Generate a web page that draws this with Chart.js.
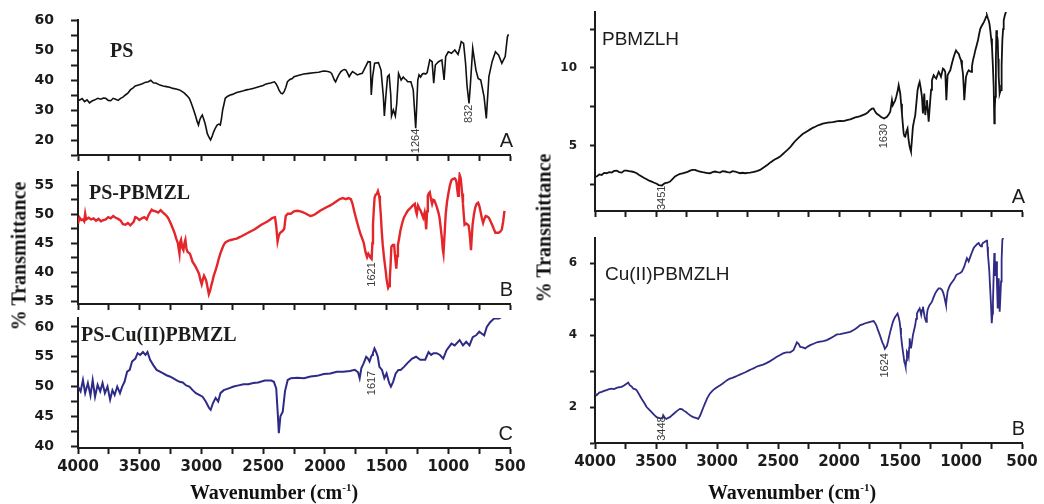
<!DOCTYPE html>
<html>
<head>
<meta charset="utf-8">
<script src="https://cdn.jsdelivr.net/npm/chart.js@4.4.1/dist/chart.umd.min.js"></script>
<style>
  body { margin: 0; background: #fff; }
  #fig { position: relative; width: 1044px; height: 504px; overflow: hidden; background: #fff; }
  #fig canvas { position: absolute; }
  .ytitle {
    position: absolute; white-space: nowrap; color: #111;
    font: bold 20px "Liberation Serif", serif;
    transform: translate(-50%, -50%) rotate(-90deg);
  }
  .xtitle {
    position: absolute; white-space: nowrap; color: #111;
    font: bold 20px "Liberation Serif", serif;
    transform: translate(-50%, -50%);
  }
  .xtitle sup { font-size: 11px; }
</style>
</head>
<body>
<div id="fig">
  <canvas id="psChart" width="530" height="163" style="left:0;top:0"></canvas>
  <canvas id="psLigandChart" width="530" height="146" style="left:0;top:164px"></canvas>
  <canvas id="psCopperChart" width="530" height="194" style="left:0;top:310px"></canvas>
  <canvas id="ligandChart" width="514" height="217" style="left:530px;top:0"></canvas>
  <canvas id="copperChart" width="514" height="279" style="left:530px;top:225px"></canvas>

  <div class="ytitle" style="left:19px;top:256px">% Transmittance</div>
  <div class="ytitle" style="left:544px;top:228px">% Transmittance</div>
  <div class="xtitle" style="left:274px;top:492px">Wavenumber (cm<sup>-1</sup>)</div>
  <div class="xtitle" style="left:792px;top:492px">Wavenumber (cm<sup>-1</sup>)</div>
</div>

<script>
// x tick labels shared by every panel (wavenumber, cm-1)
const waveLabels = [4000, 3500, 3000, 2500, 2000, 1500, 1000, 500];

// y tick labels per panel
const psTicks = [20, 30, 40, 50, 60];
const psLigandTicks = [35, 40, 45, 50, 55];
const psCopperTicks = [40, 45, 50, 55, 60];
const ligandTicks = [5, 10];
const copperTicks = [2, 4, 6];

// spectra as [wavenumber, %T]
const psSpectrum = [
  [4000, 33.6], [3987, 33.3], [3967, 33.8], [3947, 32.8], [3927, 33.4], [3907, 32.4],
  [3887, 33.0], [3867, 33.3], [3840, 33.9], [3814, 33.6], [3795, 34.0], [3775, 33.9],
  [3755, 33.2], [3735, 33.1], [3715, 33.9], [3695, 33.6], [3675, 33.2], [3655, 33.9],
  [3636, 34.3], [3616, 35.0], [3596, 35.6], [3576, 36.7], [3556, 37.3], [3536, 38.0],
  [3510, 38.3], [3483, 38.7], [3457, 39.2], [3430, 39.4], [3410, 39.9], [3390, 39.1],
  [3365, 38.9], [3337, 38.3], [3310, 38.0], [3284, 37.8], [3257, 37.6], [3231, 37.2],
  [3205, 37.0], [3178, 36.7], [3158, 36.2], [3138, 35.6], [3118, 34.8], [3099, 33.9],
  [3085, 32.6], [3072, 31.1], [3059, 29.5], [3046, 27.8], [3035, 26.2], [3024, 25.0],
  [3015, 26.5], [3006, 27.5], [2993, 28.3], [2982, 27.0], [2971, 25.6], [2962, 24.0],
  [2953, 22.2], [2940, 21.0], [2926, 20.0], [2913, 21.3], [2900, 22.8], [2887, 24.0],
  [2873, 25.0], [2860, 25.3], [2847, 25.0], [2838, 27.0], [2828, 30.0], [2817, 32.0],
  [2807, 33.9], [2790, 34.5], [2767, 35.0], [2748, 35.2], [2728, 35.6], [2708, 35.9],
  [2688, 36.1], [2660, 36.4], [2635, 36.7], [2610, 36.9], [2582, 37.2], [2555, 37.5],
  [2529, 37.8], [2500, 38.2], [2476, 38.7], [2440, 39.0], [2409, 39.4], [2396, 38.8],
  [2383, 37.8], [2370, 36.5], [2356, 35.6], [2343, 35.4], [2330, 36.1], [2316, 37.6],
  [2303, 39.4], [2283, 40.2], [2264, 40.5], [2250, 41.1], [2210, 41.6], [2171, 42.0],
  [2130, 42.2], [2092, 42.4], [2050, 42.6], [2013, 43.0], [1985, 42.9], [1961, 42.7],
  [1945, 42.2], [1934, 41.1], [1923, 40.0], [1913, 39.4], [1900, 40.6], [1887, 41.7],
  [1870, 42.8], [1855, 43.3], [1840, 43.5], [1829, 43.3], [1815, 42.2], [1803, 41.1],
  [1790, 42.0], [1776, 42.8], [1757, 42.3], [1737, 41.7], [1717, 42.0], [1697, 42.2],
  [1671, 44.4], [1650, 46.1], [1632, 46.0], [1624, 35.0], [1613, 41.1], [1597, 45.6],
  [1566, 45.8], [1545, 43.3], [1526, 34.4], [1518, 28.0], [1505, 35.0], [1492, 41.1],
  [1479, 41.7], [1466, 35.0], [1460, 28.0], [1445, 30.0], [1429, 28.0], [1418, 32.0],
  [1403, 42.2], [1382, 40.0], [1365, 41.0], [1355, 40.5], [1340, 40.0], [1329, 39.4],
  [1303, 39.4], [1284, 36.7], [1264, 23.9], [1256, 31.0], [1247, 40.0], [1237, 41.7],
  [1224, 41.0], [1210, 42.0], [1197, 42.2], [1184, 42.0], [1171, 42.5], [1150, 46.7],
  [1131, 46.1], [1118, 38.9], [1105, 45.0], [1079, 46.1], [1052, 46.7], [1034, 40.0],
  [1021, 47.8], [1000, 49.4], [974, 48.9], [947, 50.0], [921, 48.5], [908, 50.5],
  [895, 52.8], [876, 52.2], [860, 45.6], [848, 38.0], [832, 32.2], [822, 37.8],
  [802, 50.6], [776, 43.3], [758, 40.5], [737, 40.0], [710, 34.4], [692, 27.2],
  [671, 41.1], [645, 46.1], [618, 49.4], [592, 48.3], [566, 45.6], [539, 47.8],
  [521, 54.4], [512, 55.2],
];

const psLigandSpectrum = [
  [4000, 48.4], [3987, 49.4], [3973, 49.0], [3960, 49.1], [3950, 48.8], [3942, 50.1],
  [3934, 49.1], [3914, 49.4], [3894, 49.1], [3874, 49.3], [3854, 48.9], [3834, 49.2],
  [3814, 48.8], [3795, 49.0], [3775, 49.1], [3755, 49.5], [3735, 49.3], [3715, 49.7],
  [3695, 49.4], [3675, 49.2], [3655, 48.9], [3636, 48.3], [3616, 48.2], [3596, 48.5],
  [3576, 48.1], [3562, 48.4], [3549, 48.7], [3536, 49.5], [3523, 49.4], [3503, 49.0],
  [3483, 49.3], [3463, 49.5], [3443, 49.1], [3430, 49.8], [3417, 50.3], [3403, 50.8],
  [3390, 50.6], [3370, 50.5], [3350, 50.3], [3330, 50.7], [3311, 50.3], [3290, 49.9],
  [3271, 49.4], [3257, 48.8], [3244, 48.2], [3231, 47.5], [3218, 46.8], [3204, 45.8],
  [3191, 45.0], [3178, 43.2], [3172, 45.2], [3165, 45.6], [3155, 44.2], [3146, 43.8],
  [3138, 45.0], [3130, 45.6], [3121, 44.0], [3112, 43.5], [3093, 43.2], [3072, 41.8],
  [3046, 40.9], [3030, 40.2], [3019, 39.7], [3008, 38.6], [2998, 37.9], [2988, 38.8],
  [2979, 39.4], [2970, 39.0], [2961, 38.5], [2950, 37.3], [2940, 36.2], [2930, 36.8],
  [2921, 37.6], [2910, 38.5], [2900, 39.4], [2887, 40.2], [2873, 41.2], [2860, 42.3],
  [2847, 43.2], [2833, 44.0], [2820, 44.7], [2807, 45.1], [2794, 45.3], [2774, 45.5],
  [2754, 45.6], [2734, 45.7], [2714, 45.8], [2695, 46.0], [2675, 46.2], [2648, 46.5],
  [2622, 46.8], [2595, 47.1], [2568, 47.4], [2541, 47.8], [2515, 48.2], [2488, 48.5],
  [2462, 48.8], [2442, 49.1], [2423, 49.4], [2404, 49.5], [2394, 48.0], [2383, 45.3],
  [2372, 46.4], [2362, 46.8], [2343, 47.1], [2329, 47.5], [2317, 49.7], [2300, 50.1],
  [2276, 50.1], [2250, 50.5], [2224, 50.6], [2198, 50.5], [2171, 50.3], [2145, 50.0],
  [2118, 49.7], [2098, 49.8], [2079, 50.0], [2059, 50.3], [2039, 50.6], [2013, 50.9],
  [1987, 51.2], [1960, 51.5], [1934, 51.8], [1908, 52.2], [1882, 52.6], [1855, 52.8],
  [1829, 52.6], [1809, 52.8], [1789, 52.6], [1776, 51.8], [1763, 50.6], [1750, 49.5],
  [1737, 48.5], [1724, 47.5], [1710, 46.5], [1697, 45.8], [1684, 45.0], [1671, 43.5],
  [1658, 42.6], [1648, 43.2], [1639, 42.9], [1630, 42.5], [1621, 42.3], [1615, 45.0],
  [1610, 48.2], [1603, 51.0], [1597, 52.9], [1588, 53.4], [1579, 53.5], [1570, 54.0],
  [1560, 53.2], [1554, 52.0], [1547, 50.0], [1539, 47.0], [1531, 44.7], [1522, 42.8],
  [1513, 41.2], [1506, 40.0], [1500, 38.8], [1493, 37.9], [1487, 37.3], [1480, 37.6],
  [1474, 38.8], [1467, 41.5], [1461, 44.4], [1450, 44.7], [1439, 44.7], [1430, 42.5],
  [1421, 40.6], [1414, 42.8], [1408, 44.7], [1397, 46.0], [1387, 47.3], [1373, 48.5],
  [1360, 49.4], [1345, 50.0], [1329, 50.6], [1310, 51.0], [1289, 51.5], [1271, 51.8],
  [1263, 50.6], [1255, 50.0], [1245, 51.5], [1234, 51.0], [1224, 50.6], [1213, 50.0],
  [1203, 49.4], [1192, 50.3], [1185, 49.0], [1179, 47.4], [1172, 50.5], [1166, 53.2],
  [1158, 53.6], [1150, 53.8], [1140, 52.6], [1131, 51.8], [1122, 52.5], [1113, 52.4],
  [1102, 51.8], [1092, 51.2], [1080, 50.3], [1071, 49.4], [1062, 47.8], [1052, 45.9],
  [1045, 44.0], [1039, 43.2], [1030, 46.5], [1021, 50.0], [1010, 52.2], [1000, 53.5],
  [987, 55.0], [974, 55.9], [960, 56.1], [947, 56.2], [940, 56.0], [934, 55.6],
  [927, 54.2], [921, 53.2], [914, 55.0], [908, 56.8], [901, 56.4], [895, 55.3],
  [888, 53.6], [881, 51.8], [875, 50.0], [868, 48.2], [855, 48.4], [842, 48.2],
  [835, 48.0], [829, 47.1], [822, 45.5], [816, 43.8], [810, 46.0], [803, 48.2],
  [792, 50.0], [781, 51.2], [770, 51.8], [758, 52.0], [748, 51.4], [737, 50.3],
  [728, 49.3], [718, 48.5], [708, 49.2], [697, 49.7], [684, 49.6], [671, 49.4],
  [658, 48.8], [645, 48.2], [632, 47.5], [618, 46.8], [605, 46.8], [592, 46.8],
  [579, 47.0], [566, 47.4], [555, 48.8], [545, 50.6],
];

const psCopperSpectrum = [
  [4000, 50.0], [3979, 49.2], [3960, 51.1], [3942, 48.9], [3920, 50.6], [3899, 48.5],
  [3881, 51.1], [3862, 48.3], [3841, 50.3], [3820, 49.2], [3801, 50.6], [3782, 48.9],
  [3761, 50.0], [3740, 47.8], [3721, 49.4], [3703, 48.6], [3682, 50.0], [3660, 48.9],
  [3642, 50.0], [3623, 50.8], [3602, 52.5], [3581, 52.8], [3562, 54.2], [3535, 54.7],
  [3517, 55.6], [3496, 55.3], [3474, 55.8], [3453, 55.3], [3437, 55.8], [3416, 54.5],
  [3390, 53.6], [3363, 52.8], [3336, 52.5], [3310, 52.2], [3283, 51.9], [3257, 51.7],
  [3230, 51.4], [3204, 51.1], [3177, 50.8], [3151, 50.7], [3124, 50.2], [3098, 50.0],
  [3071, 49.4], [3045, 48.9], [3018, 48.6], [2991, 48.3], [2965, 47.5], [2938, 46.4],
  [2925, 46.1], [2907, 47.2], [2885, 48.1], [2864, 47.5], [2846, 48.9], [2819, 49.4],
  [2779, 49.7], [2739, 50.0], [2699, 50.2], [2660, 50.4], [2620, 50.4], [2580, 50.6],
  [2540, 50.7], [2487, 51.0], [2434, 51.0], [2413, 50.8], [2394, 49.7], [2381, 45.3],
  [2373, 42.2], [2360, 45.0], [2341, 45.8], [2323, 49.2], [2301, 51.1], [2275, 51.4],
  [2222, 51.5], [2169, 51.4], [2116, 51.7], [2063, 51.8], [2009, 52.1], [1956, 52.2],
  [1903, 52.5], [1850, 52.5], [1797, 52.6], [1757, 52.8], [1731, 52.4], [1718, 51.4],
  [1704, 53.1], [1686, 53.9], [1665, 55.0], [1651, 54.7], [1638, 54.2], [1625, 55.0],
  [1617, 55.3], [1611, 55.6], [1598, 56.4], [1585, 55.8], [1571, 55.0], [1558, 53.3],
  [1537, 52.8], [1518, 51.4], [1500, 52.2], [1479, 50.6], [1465, 50.0], [1447, 50.8],
  [1426, 52.2], [1404, 52.8], [1386, 52.8], [1359, 53.3], [1333, 53.9], [1293, 54.7],
  [1261, 55.0], [1227, 54.5], [1187, 54.5], [1160, 55.8], [1139, 55.3], [1120, 55.6],
  [1094, 55.6], [1067, 55.3], [1041, 54.7], [1014, 56.1], [974, 57.2], [948, 56.9],
  [908, 57.8], [881, 56.9], [855, 57.5], [828, 56.9], [802, 58.3], [775, 58.6],
  [749, 59.2], [730, 58.9], [709, 58.6], [688, 60.0], [661, 60.8], [629, 61.4],
  [589, 61.4], [575, 61.6],
];

const ligandSpectrum = [
  [4000, 3.0], [3986, 3.02], [3965, 3.15], [3945, 3.12], [3925, 3.25], [3904, 3.23],
  [3884, 3.3], [3863, 3.27], [3843, 3.38], [3822, 3.4], [3802, 3.3], [3781, 3.27],
  [3760, 3.4], [3740, 3.4], [3720, 3.36], [3699, 3.34], [3679, 3.3], [3658, 3.23],
  [3638, 3.12], [3617, 3.02], [3597, 2.92], [3576, 2.84], [3556, 2.75], [3535, 2.69],
  [3515, 2.62], [3494, 2.55], [3478, 2.47], [3451, 2.44], [3440, 2.52], [3426, 2.59],
  [3405, 2.62], [3385, 2.69], [3365, 2.85], [3344, 3.02], [3323, 3.12], [3303, 3.19],
  [3282, 3.22], [3262, 3.27], [3241, 3.32], [3221, 3.4], [3200, 3.45], [3180, 3.44],
  [3160, 3.38], [3139, 3.34], [3118, 3.3], [3098, 3.27], [3078, 3.24], [3057, 3.23],
  [3037, 3.3], [3016, 3.34], [2995, 3.3], [2975, 3.27], [2955, 3.36], [2934, 3.34],
  [2914, 3.3], [2893, 3.27], [2873, 3.36], [2852, 3.34], [2832, 3.28], [2811, 3.23],
  [2790, 3.26], [2770, 3.23], [2750, 3.25], [2729, 3.27], [2708, 3.3], [2688, 3.34],
  [2668, 3.38], [2647, 3.44], [2627, 3.55], [2606, 3.66], [2585, 3.78], [2565, 3.91],
  [2545, 4.02], [2524, 4.13], [2504, 4.2], [2483, 4.3], [2462, 4.45], [2441, 4.6],
  [2420, 4.75], [2400, 4.9], [2380, 5.1], [2359, 5.3], [2339, 5.45], [2319, 5.6],
  [2298, 5.75], [2277, 5.85], [2257, 5.95], [2236, 6.05], [2215, 6.15], [2195, 6.22],
  [2175, 6.3], [2154, 6.36], [2133, 6.42], [2113, 6.45], [2092, 6.48], [2072, 6.5],
  [2051, 6.52], [2031, 6.55], [2010, 6.58], [1990, 6.6], [1970, 6.58], [1949, 6.62],
  [1928, 6.66], [1908, 6.69], [1887, 6.76], [1867, 6.82], [1847, 6.86], [1826, 6.9],
  [1806, 6.97], [1785, 7.03], [1765, 7.14], [1744, 7.3], [1730, 7.38], [1717, 7.4],
  [1703, 7.18], [1690, 7.05], [1675, 6.97], [1655, 6.85], [1630, 6.75], [1620, 6.8],
  [1607, 6.86], [1593, 7.0], [1580, 7.18], [1566, 7.93], [1559, 7.6], [1552, 7.72],
  [1540, 7.9], [1531, 8.14], [1520, 8.5], [1511, 8.89], [1504, 8.6], [1498, 8.36],
  [1491, 7.7], [1484, 7.07], [1477, 6.4], [1470, 5.79], [1463, 5.6], [1457, 5.58],
  [1448, 5.9], [1438, 6.11], [1430, 5.4], [1421, 4.94], [1415, 4.75], [1410, 4.62],
  [1402, 5.4], [1394, 6.22], [1385, 6.6], [1375, 6.97], [1365, 7.8], [1356, 8.57],
  [1347, 8.9], [1339, 9.1], [1330, 8.7], [1320, 8.14], [1312, 7.07], [1306, 7.8],
  [1301, 8.36], [1293, 6.97], [1286, 7.5], [1279, 7.93], [1265, 6.54], [1258, 7.3],
  [1252, 7.93], [1245, 8.6], [1238, 9.21], [1224, 9.53], [1213, 9.4], [1203, 9.32],
  [1193, 9.55], [1183, 9.75], [1173, 9.6], [1164, 9.43], [1156, 9.7], [1148, 9.96],
  [1138, 9.9], [1129, 9.75], [1120, 7.93], [1110, 9.53], [1099, 9.7], [1088, 9.85],
  [1074, 10.3], [1060, 10.71], [1050, 10.95], [1041, 11.13], [1030, 11.0], [1019, 10.92],
  [1010, 10.7], [1000, 10.49], [992, 10.1], [984, 9.64], [978, 8.8], [973, 7.93],
  [966, 8.7], [959, 9.43], [948, 9.7], [937, 9.85], [928, 9.8], [918, 9.75],
  [910, 10.1], [902, 10.49], [892, 10.8], [883, 11.13], [872, 11.45], [861, 11.78],
  [852, 12.15], [842, 12.52], [831, 12.7], [820, 12.84], [810, 13.0], [801, 13.16],
  [794, 13.3], [787, 13.38], [780, 13.2], [773, 13.06], [766, 12.8], [760, 12.42],
  [753, 11.9], [746, 11.35], [739, 10.2], [732, 8.78], [727, 6.43], [723, 7.4],
  [719, 8.14], [714, 10.5], [710, 12.42], [705, 12.1], [699, 11.78], [695, 10.6],
  [691, 9.43], [687, 8.9], [683, 8.36], [678, 8.5], [672, 8.57], [667, 10.2],
  [661, 11.78], [655, 12.5], [650, 13.06], [640, 13.4], [628, 13.7],
];

const copperSpectrum = [
  [4000, 2.38], [3986, 2.33], [3965, 2.4], [3945, 2.42], [3925, 2.45], [3905, 2.47],
  [3884, 2.5], [3864, 2.51], [3843, 2.5], [3823, 2.53], [3802, 2.55], [3782, 2.56],
  [3762, 2.6], [3741, 2.65], [3728, 2.68], [3714, 2.6], [3700, 2.57], [3686, 2.51],
  [3672, 2.5], [3659, 2.47], [3638, 2.35], [3618, 2.23], [3597, 2.12], [3577, 2.0],
  [3556, 1.93], [3536, 1.86], [3515, 1.78], [3495, 1.72], [3481, 1.7], [3468, 1.69],
  [3448, 1.68], [3441, 1.77], [3428, 1.7], [3414, 1.67], [3400, 1.7], [3386, 1.72],
  [3366, 1.78], [3345, 1.84], [3325, 1.9], [3304, 1.95], [3288, 1.94], [3272, 1.9],
  [3254, 1.86], [3236, 1.81], [3215, 1.76], [3195, 1.72], [3174, 1.7], [3154, 1.67],
  [3140, 1.75], [3127, 1.86], [3113, 1.98], [3100, 2.09], [3080, 2.25], [3059, 2.37],
  [3038, 2.45], [3018, 2.51], [2997, 2.56], [2977, 2.6], [2956, 2.65], [2936, 2.7],
  [2915, 2.75], [2895, 2.79], [2874, 2.81], [2854, 2.84], [2833, 2.87], [2813, 2.9],
  [2786, 2.94], [2759, 2.98], [2738, 3.02], [2718, 3.05], [2697, 3.08], [2677, 3.12],
  [2650, 3.15], [2622, 3.18], [2595, 3.22], [2568, 3.27], [2540, 3.33], [2513, 3.39],
  [2486, 3.44], [2459, 3.49], [2431, 3.52], [2400, 3.52], [2373, 3.58], [2345, 3.8],
  [2330, 3.75], [2318, 3.67], [2298, 3.66], [2277, 3.63], [2257, 3.68], [2236, 3.72],
  [2208, 3.76], [2181, 3.8], [2154, 3.82], [2127, 3.83], [2100, 3.86], [2072, 3.91],
  [2045, 3.96], [2017, 4.02], [1990, 4.03], [1963, 4.05], [1935, 4.07], [1908, 4.09],
  [1887, 4.13], [1867, 4.17], [1847, 4.22], [1826, 4.28], [1806, 4.3], [1785, 4.33],
  [1765, 4.35], [1744, 4.37], [1730, 4.38], [1716, 4.39], [1705, 4.34], [1695, 4.28],
  [1685, 4.18], [1675, 4.09], [1665, 4.0], [1656, 3.91], [1645, 3.8], [1634, 3.72],
  [1624, 3.62], [1615, 3.66], [1607, 3.7], [1599, 3.81], [1590, 3.95], [1580, 4.09],
  [1569, 4.23], [1558, 4.37], [1548, 4.45], [1539, 4.51], [1530, 4.55], [1520, 4.6],
  [1511, 4.5], [1503, 4.37], [1497, 4.2], [1492, 4.0], [1484, 3.75], [1476, 3.54],
  [1470, 3.4], [1465, 3.26], [1459, 3.2], [1454, 3.12], [1448, 3.3], [1443, 3.54],
  [1436, 3.5], [1429, 3.4], [1425, 3.65], [1421, 3.91], [1415, 3.75], [1410, 3.63],
  [1402, 3.8], [1394, 4.0], [1384, 4.15], [1375, 4.28], [1368, 4.45], [1361, 4.6],
  [1350, 4.68], [1339, 4.74], [1332, 4.65], [1326, 4.56], [1319, 4.7], [1312, 4.79],
  [1305, 4.65], [1298, 4.51], [1291, 4.42], [1285, 4.37], [1280, 4.55], [1274, 4.7],
  [1265, 4.78], [1257, 4.84], [1248, 4.88], [1238, 4.93], [1225, 5.05], [1211, 5.16],
  [1197, 5.24], [1183, 5.3], [1170, 5.3], [1156, 5.26], [1146, 5.18], [1137, 5.07],
  [1130, 4.95], [1123, 4.84], [1116, 5.05], [1110, 5.21], [1099, 5.32], [1088, 5.4],
  [1074, 5.47], [1060, 5.53], [1049, 5.6], [1039, 5.67], [1025, 5.7], [1011, 5.72],
  [1001, 5.74], [992, 5.77], [982, 5.84], [973, 5.91], [962, 6.03], [951, 6.14],
  [944, 6.1], [937, 6.05], [928, 6.14], [918, 6.23], [907, 6.33], [896, 6.42],
  [885, 6.47], [874, 6.51], [865, 6.54], [855, 6.56], [846, 6.5], [836, 6.47],
  [828, 6.52], [820, 6.56], [810, 6.58], [801, 6.6], [794, 6.62], [787, 6.65],
  [783, 6.45], [779, 6.23], [773, 6.0], [768, 5.77], [761, 5.3], [754, 4.84],
  [750, 4.55], [746, 4.33], [742, 4.6], [738, 4.93], [732, 5.7], [727, 6.28],
  [723, 6.0], [719, 5.67], [715, 5.85], [710, 6.05], [705, 5.4], [699, 4.74],
  [695, 5.1], [691, 5.58], [687, 5.1], [683, 4.65], [678, 5.0], [672, 5.49],
  [667, 6.1], [661, 6.65], [655, 6.7],
];

const INK = "#1c1c1c";
const axisLine = { display: true, color: INK, width: 2 };
const tickMarks = (len) => ({
  display: true,
  drawOnChartArea: false,
  drawTicks: true,
  tickLength: len,
  tickWidth: 2,
  tickColor: INK,
});

// sample name, panel letter and the rotated peak labels
const panelText = (p) => ({
  id: "panelText",
  afterDatasetsDraw(chart) {
    const { ctx, chartArea: a, scales } = chart;
    ctx.save();
    ctx.fillStyle = INK;
    ctx.textBaseline = "alphabetic";
    ctx.textAlign = "left";
    ctx.font = p.nameFont;
    ctx.fillText(p.name, a.left + p.nameAt[0], a.top + p.nameAt[1]);

    ctx.textAlign = "right";
    ctx.font = '20px "Liberation Sans", Arial, sans-serif';
    ctx.fillText(p.letter, a.right + 3, a.bottom - 8);

    ctx.font = '11px "Liberation Sans", Arial, sans-serif';
    ctx.fillStyle = "#3a3a3a";
    ctx.textAlign = "center";
    ctx.textBaseline = "middle";
    p.peaks.forEach(([label, wn, t]) => {
      ctx.save();
      ctx.translate(scales.x.getPixelForValue(wn), scales.y.getPixelForValue(t));
      ctx.rotate(-Math.PI / 2);
      ctx.fillText(label, 0, 0);
      ctx.restore();
    });
    ctx.restore();
  },
});

const buildPanel = (id, p) => {
  const ctx = document.getElementById(id).getContext("2d");
  return new Chart(ctx, {
    type: "line",
    data: {
      datasets: [
        {
          data: p.spectrum.map(([x, y]) => ({ x, y })),
          borderColor: p.color,
          borderWidth: p.lineWidth,
          pointRadius: 0,
          tension: 0,
          fill: false,
        },
      ],
    },
    options: {
      responsive: false,
      animation: false,
      devicePixelRatio: 1,
      layout: { padding: p.padding },
      plugins: { legend: { display: false }, tooltip: { enabled: false } },
      scales: {
        x: {
          type: "linear",
          reverse: true,
          min: 500,
          max: 4000,
          border: axisLine,
          grid: tickMarks(6),
          ticks: {
            stepSize: 250,
            autoSkip: false,
            maxRotation: 0,
            includeBounds: false,
            padding: 4,
            color: INK,
            font: { family: "DejaVu Sans", weight: "bold", size: 15 },
            callback: (v) => (p.waveLabels && waveLabels.includes(v) ? v : ""),
          },
          afterFit: (s) => {
            s.height = p.xHeight;
            s.paddingLeft = 0;
            s.paddingRight = 0;
          },
        },
        y: {
          type: "linear",
          min: p.yMin,
          max: p.yMax,
          border: axisLine,
          grid: tickMarks(p.yTickLen),
          ticks: {
            stepSize: p.yStep,
            autoSkip: false,
            includeBounds: false,
            padding: p.yPad,
            color: INK,
            font: { family: "DejaVu Sans", weight: "bold", size: p.yFontSize },
            callback: (v) => (p.yLabels.includes(v) ? v : ""),
          },
          afterFit: (s) => {
            s.width = p.yWidth;
            s.paddingTop = 0;
            s.paddingBottom = 0;
          },
        },
      },
    },
    plugins: [panelText(p)],
  });
};

const serifName = 'bold 20px "Liberation Serif", "Times New Roman", serif';
const sansName = '19px "Liberation Sans", Arial, sans-serif';

buildPanel("psChart", {
  spectrum: psSpectrum, color: "#111111", lineWidth: 1.6,
  padding: { top: 20, right: 20, left: 0, bottom: 0 }, xHeight: 8, yWidth: 78,
  yMin: 15, yMax: 60, yStep: 5, yLabels: psTicks, yTickLen: 7, yPad: 17, yFontSize: 14,
  name: "PS", nameFont: serifName, nameAt: [32, 37], letter: "A",
  peaks: [["1264", 1264, 19.7], ["832", 832, 28.7]],
});

buildPanel("psLigandChart", {
  spectrum: psLigandSpectrum, color: "#e4262b", lineWidth: 2.4,
  padding: { top: 8, right: 20, left: 0, bottom: 0 }, xHeight: 6, yWidth: 78,
  yMin: 34.5, yMax: 57.3, yStep: 2.5, yLabels: psLigandTicks, yTickLen: 7, yPad: 17, yFontSize: 14,
  name: "PS-PBMZL", nameFont: serifName, nameAt: [11, 27], letter: "B",
  peaks: [["1621", 1621, 39.6]],
});

buildPanel("psCopperChart", {
  spectrum: psCopperSpectrum, color: "#2e2b87", lineWidth: 2,
  padding: { top: 8, right: 20, left: 0, bottom: 0 }, xHeight: 56, yWidth: 78,
  yMin: 39.7, yMax: 61.5, yStep: 2.5, yLabels: psCopperTicks, yTickLen: 7, yPad: 17, yFontSize: 14,
  waveLabels: true,
  name: "PS-Cu(II)PBMZL", nameFont: serifName, nameAt: [3, 23], letter: "C",
  peaks: [["1617", 1617, 50.6]],
});

buildPanel("ligandChart", {
  spectrum: ligandSpectrum, color: "#111111", lineWidth: 1.8,
  padding: { top: 12, right: 22, left: 0, bottom: 0 }, xHeight: 6, yWidth: 65,
  yMin: 0.8, yMax: 13.6, yStep: 2.5, yLabels: ligandTicks, yTickLen: 5, yPad: 13, yFontSize: 12,
  name: "PBMZLH", nameFont: sansName, nameAt: [7, 33], letter: "A",
  peaks: [["3451", 3451, 1.65], ["1630", 1630, 5.62]],
});

buildPanel("copperChart", {
  spectrum: copperSpectrum, color: "#302b84", lineWidth: 1.8,
  padding: { top: 13, right: 22, left: 0, bottom: 0 }, xHeight: 61, yWidth: 65,
  yMin: 1.0, yMax: 6.7, yStep: 1, yLabels: copperTicks, yTickLen: 5, yPad: 13, yFontSize: 12,
  waveLabels: true,
  name: "Cu(II)PBMZLH", nameFont: sansName, nameAt: [10, 42], letter: "B",
  peaks: [["3448", 3448, 1.4], ["1624", 1624, 3.16]],
});
</script>
</body>
</html>
